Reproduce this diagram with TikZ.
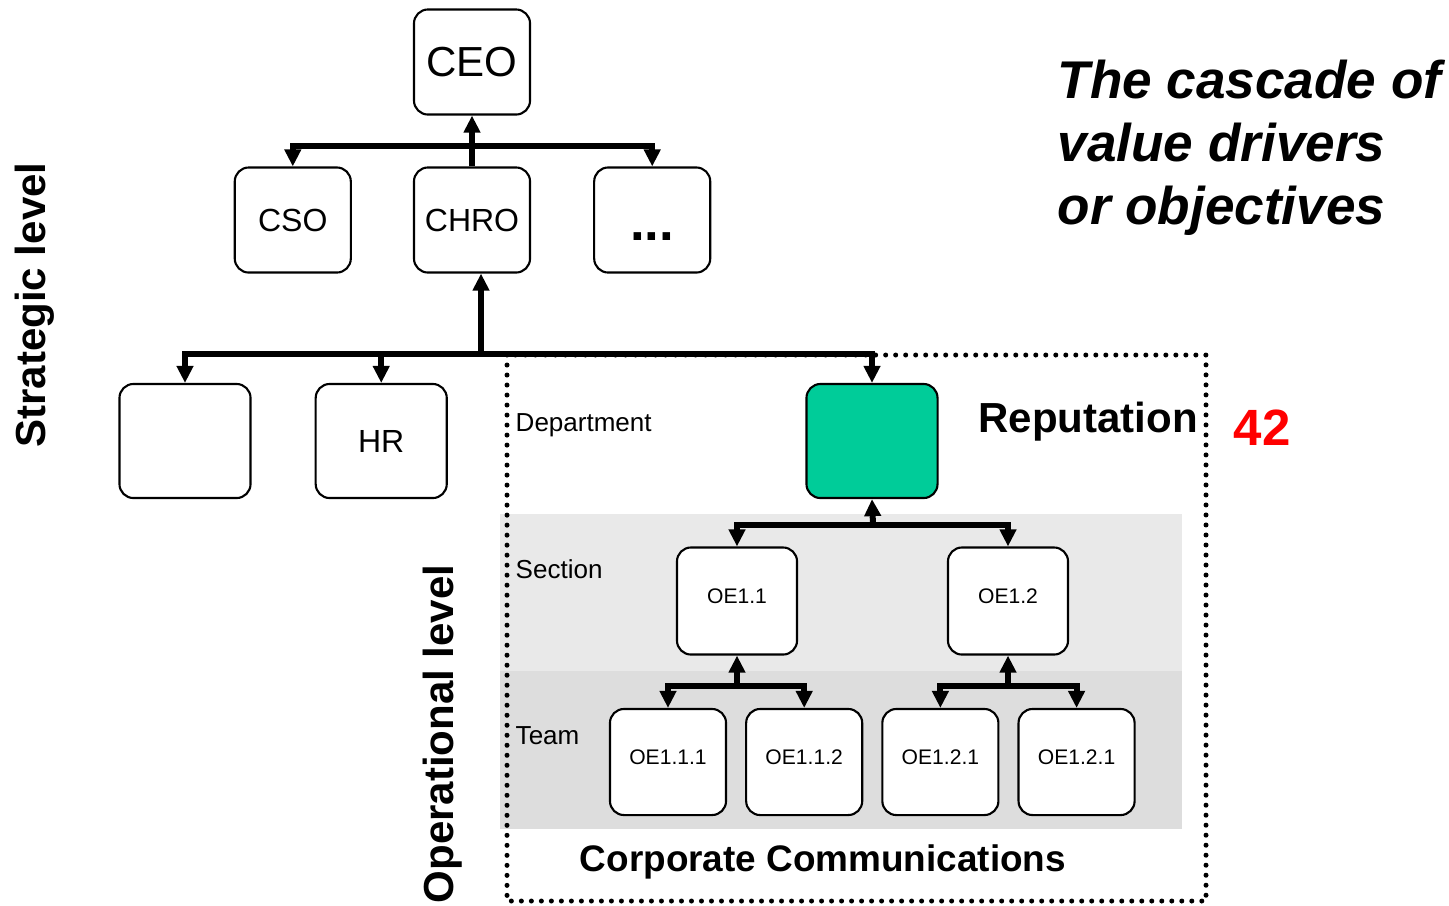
\documentclass[tikz,border=0pt]{standalone}
\usepackage{fontspec}
\setmainfont{Liberation Sans}
\usetikzlibrary{arrows.meta, positioning}
\definecolor{deptgreen}{HTML}{00CC99}
\definecolor{sectiongrey}{HTML}{E9E9E9}
\definecolor{teamgrey}{HTML}{DDDDDD}

\begin{document}
\begin{tikzpicture}[x=0.01cm, y=-0.01cm,
    box/.style={draw, rounded corners=0.14cm, line width=0.6pt, fill=white, inner sep=0pt},
    topbox/.style={box, minimum width=1.16cm, minimum height=1.05cm, font=\fontsize{9.1}{11}\selectfont},
    unitbox/.style={box, minimum width=1.31cm, minimum height=1.14cm},
    oebox/.style={box, minimum width=1.2cm, minimum height=1.07cm, text depth=0.1cm, font=\fontsize{6}{7}\selectfont},
    teambox/.style={oebox, minimum width=1.16cm, minimum height=1.06cm},
    bus/.style={line width=0.06cm, {Triangle[length=0.17cm,width=0.16cm]}-{Triangle[length=0.17cm,width=0.16cm]}},
    link/.style={line width=0.06cm, -{Triangle[length=0.17cm,width=0.16cm]}},
    dotframe/.style={line width=0.05cm, line cap=round, dash pattern=on 0pt off 0.1cm},
    levelname/.style={rotate=90, font=\bfseries\fontsize{11.95}{14}\selectfont},
    tiername/.style={anchor=west, inner sep=0pt, font=\fontsize{7.4}{9}\selectfont}]

    \useasboundingbox (0,0) rectangle (1449,905);

    % bands and frame of the unit
    \fill[sectiongrey] (500,514) rectangle (1182,671);
    \fill[teamgrey] (500,671) rectangle (1182,829);
    \draw[dotframe] (507,355) rectangle (1206,901);

    \node (ceo)   [topbox, font=\fontsize{11.95}{14}\selectfont] at (472,62) {CEO};
    \node (chro)  [topbox] at (472,220) {CHRO};
    \node (cso)   [topbox, left=0.61cm of chro] {CSO};
    \node (more)  [topbox, right=0.62cm of chro, text height=0.4cm, text depth=0pt, font=\bfseries\fontsize{15}{18}\selectfont] {...};

    \node (blank) [unitbox] at (185,441) {};
    \node (hr)    [unitbox, right=0.63cm of blank, font=\fontsize{9.1}{11}\selectfont] {HR};
    \node (dept)  [unitbox, fill=deptgreen] at (872,441) {};

    \node (oe11)  [oebox] at (737,601) {OE1.1};
    \node (oe12)  [oebox] at (1008,601) {OE1.2};

    \node (oe111) [teambox] at (668,762) {OE1.1.1};
    \node (oe112) [teambox, right=0.18cm of oe111] {OE1.1.2};
    \node (oe121) [teambox, right=0.18cm of oe112] {OE1.2.1};
    \node (oe122) [teambox, right=0.18cm of oe121] {OE1.2.1};

    \coordinate (top bus)  at (472,146);
    \coordinate (mid bus)  at (481,354);
    \coordinate (dept bus) at (873,525);
    \coordinate (oe11 bus) at (737,686);
    \coordinate (oe12 bus) at (1008,686);

    \draw[bus]  (cso.north) |- (top bus) -| (more.north);
    \draw[link] (chro.north) -- (ceo.south);

    \draw[bus]  (blank.north) |- (mid bus) -| (dept.north);
    \draw[link] (mid bus -| hr.north) -- (hr.north);
    \draw[link] (mid bus) -- (mid bus |- chro.south);

    \draw[bus]  (oe11.north) |- (dept bus) -| (oe12.north);
    \draw[link] (dept bus) -- (dept.south);

    \draw[bus]  (oe111.north) |- (oe11 bus) -| (oe112.north);
    \draw[link] (oe11 bus) -- (oe11.south);
    \draw[bus]  (oe121.north) |- (oe12 bus) -| (oe122.north);
    \draw[link] (oe12 bus) -- (oe12.south);

    \node (strategic)   [levelname] at (35,305) {Strategic level};
    \node (operational) [levelname] at (443,734) {Operational level};

    \node (title) [anchor=west, align=left, inner sep=0pt, font=\bfseries\itshape\fontsize{15.1}{17.9}\selectfont] at (1057,148) {The cascade of\\value drivers\\or objectives};

    \node (reputation) [font=\bfseries\fontsize{11.95}{14}\selectfont] at (1088,422) {Reputation};
    \node (score)      [text=red, font=\bfseries\fontsize{14.5}{17}\selectfont] at (1262,428) {42};
    \node (unitname)   [font=\bfseries\fontsize{10.5}{12}\selectfont] at (823,862) {Corporate Communications};

    \node (department) [tiername] at (515,425) {Department};
    \node (section)    [tiername] at (515,569) {Section};
    \node (team)       [tiername] at (515,736) {Team};

\end{tikzpicture}
\end{document}
